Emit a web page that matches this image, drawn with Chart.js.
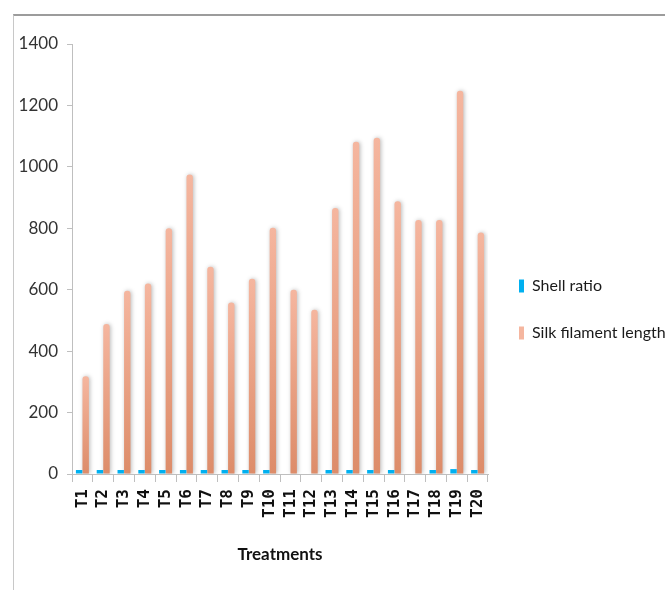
<!DOCTYPE html>
<html>
<head>
<meta charset="utf-8">
<script src="https://cdn.jsdelivr.net/npm/chart.js@4.4.1/dist/chart.umd.min.js"></script>
<style>
  html, body { margin: 0; padding: 0; background: #fff; }
  #wrap { position: relative; width: 665px; height: 590px; overflow: hidden; }
  #frame { position: absolute; left: 13px; top: 14px; right: 0; bottom: 0;
           border-top: 2px solid #9c9c9c; border-left: 1px solid #c8c8c8; }
  #c { position: absolute; left: 0; top: 0; }
</style>
</head>
<body>
<div id="wrap">
  <div id="frame"></div>
  <canvas id="c" width="665" height="590"></canvas>
</div>
<script>
// Treatments on the category axis
const treatments = ['T1','T2','T3','T4','T5','T6','T7','T8','T9','T10',
                    'T11','T12','T13','T14','T15','T16','T17','T18','T19','T20'];

// Shell ratio (%) per treatment; no value recorded for T11, T12, T17
const shellRatio = [13, 13, 13, 13, 13, 13, 13, 13, 13, 13,
                    null, null, 13, 13, 13, 13, null, 13, 16, 13];

// Silk filament length (m) per treatment
const silkFilamentLength = [318, 488, 597, 620, 800, 975, 675, 558, 636, 802,
                            600, 535, 866, 1082, 1095, 888, 827, 827, 1248, 786];

// Value axis range and step
const yMin = 0, yMax = 1400, yStep = 200;

const textFont = 'Lato, "DejaVu Sans Condensed", sans-serif';

// Salmon bars shade from light at the top to darker at the base
function silkFill(ctx) {
  const flat = '#eba184';
  if (ctx.type !== 'data') return flat;
  const chart = ctx.chart;
  if (!chart.chartArea) return flat;
  const y = chart.scales.y;
  const top = y.getPixelForValue(ctx.raw);
  const base = y.getPixelForValue(0);
  if (!isFinite(top) || top >= base) return flat;
  const g = chart.ctx.createLinearGradient(0, top, 0, base);
  g.addColorStop(0, '#f5b69f');
  g.addColorStop(1, '#dd8c69');
  return g;
}

// Soft shadow behind the silk length bars
const barShadow = {
  id: 'barShadow',
  beforeDatasetDraw(chart, args) {
    if (args.index !== 1) return;
    const c = chart.ctx;
    c.save();
    c.shadowColor = 'rgba(0,0,0,0.28)';
    c.shadowBlur = 4;
    c.shadowOffsetX = 1;
  },
  afterDatasetDraw(chart, args) {
    if (args.index !== 1) return;
    chart.ctx.restore();
  }
};

new Chart(document.getElementById('c'), {
  type: 'bar',
  data: {
    labels: treatments,
    datasets: [
      {
        label: 'Shell ratio',
        data: shellRatio,
        backgroundColor: '#00b0f0',
        borderWidth: 0,
        categoryPercentage: 0.63,
        barPercentage: 0.98
      },
      {
        label: 'Silk filament length',
        data: silkFilamentLength,
        backgroundColor: silkFill,
        borderWidth: 0,
        borderRadius: { topLeft: 3, topRight: 3, bottomLeft: 0, bottomRight: 0 },
        borderSkipped: 'start',
        categoryPercentage: 0.63,
        barPercentage: 0.98
      }
    ]
  },
  options: {
    responsive: false,
    animation: false,
    devicePixelRatio: 1,
    layout: { padding: { left: 0, right: 0, top: 44, bottom: 15 } },
    plugins: {
      legend: {
        position: 'right',
        align: 'center',
        maxWidth: 177,
        labels: {
          boxWidth: 5,
          boxHeight: 13,
          padding: 31,
          color: '#1a1a1a',
          font: { family: textFont, size: 16 }
        }
      },
      tooltip: { enabled: false }
    },
    scales: {
      x: {
        afterFit(scale) { scale.height = 101; },
        border: { display: true, color: '#bfbfbf', width: 1 },
        grid: { display: true, drawOnChartArea: false, offset: true, tickLength: 8, color: '#bfbfbf' },
        ticks: {
          minRotation: 90,
          maxRotation: 90,
          padding: 7,
          autoSkip: false,
          color: '#111',
          font: { family: '"DejaVu Sans Mono", monospace', size: 16, weight: 'bold' }
        },
        title: {
          display: true,
          text: 'Treatments',
          color: '#111',
          font: { family: textFont, size: 17, weight: 'bold' },
          padding: { top: 0, bottom: 10 }
        }
      },
      y: {
        min: yMin,
        max: yMax,
        afterFit(scale) { scale.width = 72; },
        border: { display: true, color: '#bfbfbf', width: 1 },
        grid: { display: true, drawOnChartArea: false, tickLength: 5, color: '#bfbfbf' },
        ticks: {
          stepSize: yStep,
          padding: 9,
          color: '#333',
          format: { useGrouping: false },
          font: { family: textFont, size: 17 }
        }
      }
    }
  },
  plugins: [barShadow]
});
</script>
</body>
</html>
